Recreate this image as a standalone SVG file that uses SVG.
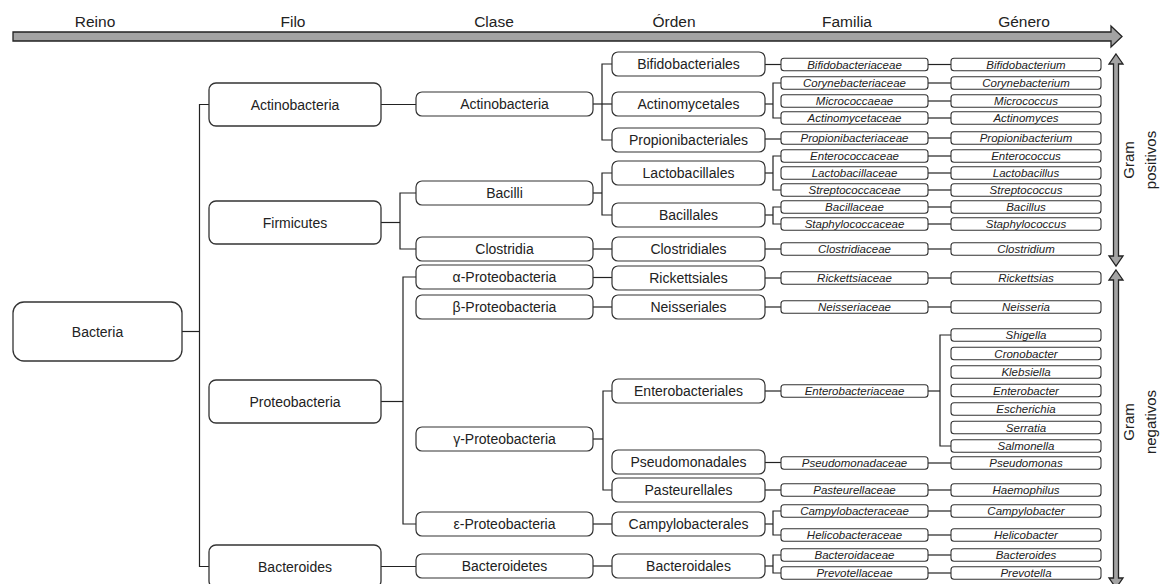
<svg xmlns="http://www.w3.org/2000/svg" width="1166" height="584" viewBox="0 0 1166 584">
  <style>
    .bg { fill: #ffffff; }
    .arr { fill: #a3a3a3; stroke: #222; stroke-width: 1.3; stroke-linejoin: miter; }
    .hd { font-family: "Liberation Sans", Arial, sans-serif; font-size: 15.5px; fill: #222; text-anchor: middle; }
    .gl { font-family: "Liberation Sans", Arial, sans-serif; font-size: 15px; fill: #222; text-anchor: middle; }
    .big { fill: #fff; stroke: #333; stroke-width: 1.3; }
    .box { fill: #fff; stroke: #333; stroke-width: 1.2; }
    .sm { fill: #fff; stroke: #333; stroke-width: 1.1; }
    .t { font-family: "Liberation Sans", Arial, sans-serif; font-size: 14px; fill: #222; text-anchor: middle; }
    .i { font-family: "Liberation Sans", Arial, sans-serif; font-size: 11.5px; font-style: italic; fill: #222; text-anchor: middle; }
    .c { fill: none; stroke: #222; stroke-width: 1.2; }
  </style>
  <rect class="bg" x="0" y="0" width="1166" height="584"/>

  <!-- rank axis -->
  <g id="header">
    <polygon class="arr" points="13,32 1111,32 1111,26 1122,36.5 1111,47 1111,41 13,41"/>
    <text class="hd" x="95" y="27">Reino</text>
    <text class="hd" x="293" y="27">Filo</text>
    <text class="hd" x="494" y="27">Clase</text>
    <text class="hd" x="674" y="27">Órden</text>
    <text class="hd" x="847" y="27">Familia</text>
    <text class="hd" x="1024" y="27">Género</text>
  </g>

  <!-- Gram staining brackets -->
  <g id="gram-positivos">
    <polygon class="arr" points="1116,54 1123,64 1118.5,64 1118.5,256 1123,256 1116,266 1109,256 1113.5,256 1113.5,64 1109,64"/>
    <text class="gl" transform="translate(1134,160) rotate(-90)">Gram</text>
    <text class="gl" transform="translate(1156,160) rotate(-90)">positivos</text>
  </g>
  <g id="gram-negativos">
    <polygon class="arr" points="1116,270 1123,280 1118.5,280 1118.5,578 1123,578 1116,588 1109,578 1113.5,578 1113.5,280 1109,280"/>
    <text class="gl" transform="translate(1134,422) rotate(-90)">Gram</text>
    <text class="gl" transform="translate(1156,422) rotate(-90)">negativos</text>
  </g>

  <!-- tree connectors -->
  <g id="connectors" class="c">
    <path d="M182,331.5 H199.5"/>
    <path d="M209,104.5 H199.5 V566.5 H209"/>
    <path d="M381,104.5 H416"/>
    <path d="M381,222.5 H400"/>
    <path d="M416,193 H400 V249 H416"/>
    <path d="M381,401.5 H403"/>
    <path d="M416,277 H403 V524 H416"/>
    <path d="M381,566.5 H416"/>

    <path d="M593,104 H612"/>
    <path d="M612,64 H602 V140 H612"/>
    <path d="M593,193 H602"/>
    <path d="M612,173 H602 V215 H612"/>
    <path d="M593,249 H612"/>
    <path d="M593,277.5 H612"/>
    <path d="M593,307 H612"/>
    <path d="M593,439 H603"/>
    <path d="M612,391 H603 V490 H612"/>
    <path d="M593,524 H612"/>
    <path d="M593,566 H612"/>

    <path d="M765,64.5 H781"/>
    <path d="M765,104 H773"/>
    <path d="M781,83 H773 V118 H781"/>
    <path d="M765,139 H781"/>
    <path d="M765,173 H773"/>
    <path d="M781,156 H773 V190 H781"/>
    <path d="M765,215 H773"/>
    <path d="M781,207 H773 V224 H781"/>
    <path d="M765,249 H781"/>
    <path d="M765,278 H781"/>
    <path d="M765,307 H781"/>
    <path d="M765,391 H781"/>
    <path d="M765,462.5 H781"/>
    <path d="M765,490 H781"/>
    <path d="M765,524 H773"/>
    <path d="M781,511 H773 V535 H781"/>
    <path d="M765,566 H773"/>
    <path d="M781,555 H773 V573 H781"/>

    <path d="M928,64.5 H951"/>
    <path d="M928,83 H951"/>
    <path d="M928,101 H951"/>
    <path d="M928,118 H951"/>
    <path d="M928,138 H951"/>
    <path d="M928,156 H951"/>
    <path d="M928,173 H951"/>
    <path d="M928,190 H951"/>
    <path d="M928,207 H951"/>
    <path d="M928,224 H951"/>
    <path d="M928,249 H951"/>
    <path d="M928,278 H951"/>
    <path d="M928,307 H951"/>
    <path d="M928,391 H940"/>
    <path d="M951,335 H940 V446 H951"/>
    <path d="M928,463 H951"/>
    <path d="M928,490 H951"/>
    <path d="M928,511 H951"/>
    <path d="M928,535 H951"/>
    <path d="M928,555 H951"/>
    <path d="M928,573 H951"/>
  </g>

  <!-- Reino -->
  <g id="reino-bacteria"><rect class="big" x="13" y="302" width="169" height="59" rx="11"/><text class="t" x="97.5" y="336.5">Bacteria</text></g>

  <!-- Filo -->
  <g id="filo-actinobacteria"><rect class="big" x="209" y="83" width="172" height="43" rx="7"/><text class="t" x="295" y="109.5">Actinobacteria</text></g>
  <g id="filo-firmicutes"><rect class="big" x="209" y="201" width="172" height="43" rx="7"/><text class="t" x="295" y="227.5">Firmicutes</text></g>
  <g id="filo-proteobacteria"><rect class="big" x="209" y="380" width="172" height="43" rx="7"/><text class="t" x="295" y="406.5">Proteobacteria</text></g>
  <g id="filo-bacteroides"><rect class="big" x="209" y="545" width="172" height="43" rx="7"/><text class="t" x="295" y="571.5">Bacteroides</text></g>

  <!-- Clase -->
  <g id="clase-actinobacteria"><rect class="box" x="416" y="92" width="177" height="24" rx="6"/><text class="t" x="504.5" y="109">Actinobacteria</text></g>
  <g id="clase-bacilli"><rect class="box" x="416" y="181" width="177" height="24" rx="6"/><text class="t" x="504.5" y="198">Bacilli</text></g>
  <g id="clase-clostridia"><rect class="box" x="416" y="237" width="177" height="24" rx="6"/><text class="t" x="504.5" y="254">Clostridia</text></g>
  <g id="clase-alpha"><rect class="box" x="416" y="265" width="177" height="24" rx="6"/><text class="t" x="504.5" y="282">α-Proteobacteria</text></g>
  <g id="clase-beta"><rect class="box" x="416" y="295" width="177" height="24" rx="6"/><text class="t" x="504.5" y="312">β-Proteobacteria</text></g>
  <g id="clase-gamma"><rect class="box" x="416" y="427" width="177" height="24" rx="6"/><text class="t" x="504.5" y="444">γ-Proteobacteria</text></g>
  <g id="clase-epsilon"><rect class="box" x="416" y="512" width="177" height="24" rx="6"/><text class="t" x="504.5" y="529">ε-Proteobacteria</text></g>
  <g id="clase-bacteroidetes"><rect class="box" x="416" y="554" width="177" height="24" rx="6"/><text class="t" x="504.5" y="571">Bacteroidetes</text></g>

  <!-- Orden -->
  <g id="orden-bifidobacteriales"><rect class="box" x="612" y="52" width="153" height="24" rx="6"/><text class="t" x="688.5" y="69">Bifidobacteriales</text></g>
  <g id="orden-actinomycetales"><rect class="box" x="612" y="92" width="153" height="24" rx="6"/><text class="t" x="688.5" y="109">Actinomycetales</text></g>
  <g id="orden-propionibacteriales"><rect class="box" x="612" y="128" width="153" height="24" rx="6"/><text class="t" x="688.5" y="145">Propionibacteriales</text></g>
  <g id="orden-lactobacillales"><rect class="box" x="612" y="161" width="153" height="24" rx="6"/><text class="t" x="688.5" y="178">Lactobacillales</text></g>
  <g id="orden-bacillales"><rect class="box" x="612" y="203" width="153" height="24" rx="6"/><text class="t" x="688.5" y="220">Bacillales</text></g>
  <g id="orden-clostridiales"><rect class="box" x="612" y="237" width="153" height="24" rx="6"/><text class="t" x="688.5" y="254">Clostridiales</text></g>
  <g id="orden-rickettsiales"><rect class="box" x="612" y="266" width="153" height="24" rx="6"/><text class="t" x="688.5" y="283">Rickettsiales</text></g>
  <g id="orden-neisseriales"><rect class="box" x="612" y="295" width="153" height="24" rx="6"/><text class="t" x="688.5" y="312">Neisseriales</text></g>
  <g id="orden-enterobacteriales"><rect class="box" x="612" y="379" width="153" height="24" rx="6"/><text class="t" x="688.5" y="396">Enterobacteriales</text></g>
  <g id="orden-pseudomonadales"><rect class="box" x="612" y="450" width="153" height="24" rx="6"/><text class="t" x="688.5" y="467">Pseudomonadales</text></g>
  <g id="orden-pasteurellales"><rect class="box" x="612" y="478" width="153" height="24" rx="6"/><text class="t" x="688.5" y="495">Pasteurellales</text></g>
  <g id="orden-campylobacterales"><rect class="box" x="612" y="512" width="153" height="24" rx="6"/><text class="t" x="688.5" y="529">Campylobacterales</text></g>
  <g id="orden-bacteroidales"><rect class="box" x="612" y="554" width="153" height="24" rx="6"/><text class="t" x="688.5" y="571">Bacteroidales</text></g>

  <!-- Familia -->
  <g id="fam-bifidobacteriaceae"><rect class="sm" x="781" y="58.25" width="147" height="12.5" rx="3"/><text class="i" x="854.5" y="68.75">Bifidobacteriaceae</text></g>
  <g id="fam-corynebacteriaceae"><rect class="sm" x="781" y="76.75" width="147" height="12.5" rx="3"/><text class="i" x="854.5" y="87.25">Corynebacteriaceae</text></g>
  <g id="fam-micrococcaeae"><rect class="sm" x="781" y="94.75" width="147" height="12.5" rx="3"/><text class="i" x="854.5" y="105.25">Micrococcaeae</text></g>
  <g id="fam-actinomycetaceae"><rect class="sm" x="781" y="111.75" width="147" height="12.5" rx="3"/><text class="i" x="854.5" y="122.25">Actinomycetaceae</text></g>
  <g id="fam-propionibacteriaceae"><rect class="sm" x="781" y="131.75" width="147" height="12.5" rx="3"/><text class="i" x="854.5" y="142.25">Propionibacteriaceae</text></g>
  <g id="fam-enterococcaceae"><rect class="sm" x="781" y="149.75" width="147" height="12.5" rx="3"/><text class="i" x="854.5" y="160.25">Enterococcaceae</text></g>
  <g id="fam-lactobacillaceae"><rect class="sm" x="781" y="166.75" width="147" height="12.5" rx="3"/><text class="i" x="854.5" y="177.25">Lactobacillaceae</text></g>
  <g id="fam-streptococcaceae"><rect class="sm" x="781" y="183.75" width="147" height="12.5" rx="3"/><text class="i" x="854.5" y="194.25">Streptococcaceae</text></g>
  <g id="fam-bacillaceae"><rect class="sm" x="781" y="200.75" width="147" height="12.5" rx="3"/><text class="i" x="854.5" y="211.25">Bacillaceae</text></g>
  <g id="fam-staphylococcaceae"><rect class="sm" x="781" y="217.75" width="147" height="12.5" rx="3"/><text class="i" x="854.5" y="228.25">Staphylococcaceae</text></g>
  <g id="fam-clostridiaceae"><rect class="sm" x="781" y="242.75" width="147" height="12.5" rx="3"/><text class="i" x="854.5" y="253.25">Clostridiaceae</text></g>
  <g id="fam-rickettsiaceae"><rect class="sm" x="781" y="271.75" width="147" height="12.5" rx="3"/><text class="i" x="854.5" y="282.25">Rickettsiaceae</text></g>
  <g id="fam-neisseriaceae"><rect class="sm" x="781" y="300.75" width="147" height="12.5" rx="3"/><text class="i" x="854.5" y="311.25">Neisseriaceae</text></g>
  <g id="fam-enterobacteriaceae"><rect class="sm" x="781" y="384.75" width="147" height="12.5" rx="3"/><text class="i" x="854.5" y="395.25">Enterobacteriaceae</text></g>
  <g id="fam-pseudomonadaceae"><rect class="sm" x="781" y="456.75" width="147" height="12.5" rx="3"/><text class="i" x="854.5" y="467.25">Pseudomonadaceae</text></g>
  <g id="fam-pasteurellaceae"><rect class="sm" x="781" y="483.75" width="147" height="12.5" rx="3"/><text class="i" x="854.5" y="494.25">Pasteurellaceae</text></g>
  <g id="fam-campylobacteraceae"><rect class="sm" x="781" y="504.75" width="147" height="12.5" rx="3"/><text class="i" x="854.5" y="515.25">Campylobacteraceae</text></g>
  <g id="fam-helicobacteraceae"><rect class="sm" x="781" y="528.75" width="147" height="12.5" rx="3"/><text class="i" x="854.5" y="539.25">Helicobacteraceae</text></g>
  <g id="fam-bacteroidaceae"><rect class="sm" x="781" y="548.75" width="147" height="12.5" rx="3"/><text class="i" x="854.5" y="559.25">Bacteroidaceae</text></g>
  <g id="fam-prevotellaceae"><rect class="sm" x="781" y="566.75" width="147" height="12.5" rx="3"/><text class="i" x="854.5" y="577.25">Prevotellaceae</text></g>

  <!-- Género -->
  <g id="gen-bifidobacterium"><rect class="sm" x="951" y="58.25" width="150" height="12.5" rx="3"/><text class="i" x="1026" y="68.75">Bifidobacterium</text></g>
  <g id="gen-corynebacterium"><rect class="sm" x="951" y="76.75" width="150" height="12.5" rx="3"/><text class="i" x="1026" y="87.25">Corynebacterium</text></g>
  <g id="gen-micrococcus"><rect class="sm" x="951" y="94.75" width="150" height="12.5" rx="3"/><text class="i" x="1026" y="105.25">Micrococcus</text></g>
  <g id="gen-actinomyces"><rect class="sm" x="951" y="111.75" width="150" height="12.5" rx="3"/><text class="i" x="1026" y="122.25">Actinomyces</text></g>
  <g id="gen-propionibacterium"><rect class="sm" x="951" y="131.75" width="150" height="12.5" rx="3"/><text class="i" x="1026" y="142.25">Propionibacterium</text></g>
  <g id="gen-enterococcus"><rect class="sm" x="951" y="149.75" width="150" height="12.5" rx="3"/><text class="i" x="1026" y="160.25">Enterococcus</text></g>
  <g id="gen-lactobacillus"><rect class="sm" x="951" y="166.75" width="150" height="12.5" rx="3"/><text class="i" x="1026" y="177.25">Lactobacillus</text></g>
  <g id="gen-streptococcus"><rect class="sm" x="951" y="183.75" width="150" height="12.5" rx="3"/><text class="i" x="1026" y="194.25">Streptococcus</text></g>
  <g id="gen-bacillus"><rect class="sm" x="951" y="200.75" width="150" height="12.5" rx="3"/><text class="i" x="1026" y="211.25">Bacillus</text></g>
  <g id="gen-staphylococcus"><rect class="sm" x="951" y="217.75" width="150" height="12.5" rx="3"/><text class="i" x="1026" y="228.25">Staphylococcus</text></g>
  <g id="gen-clostridium"><rect class="sm" x="951" y="242.75" width="150" height="12.5" rx="3"/><text class="i" x="1026" y="253.25">Clostridium</text></g>
  <g id="gen-rickettsias"><rect class="sm" x="951" y="271.75" width="150" height="12.5" rx="3"/><text class="i" x="1026" y="282.25">Rickettsias</text></g>
  <g id="gen-neisseria"><rect class="sm" x="951" y="300.75" width="150" height="12.5" rx="3"/><text class="i" x="1026" y="311.25">Neisseria</text></g>
  <g id="gen-shigella"><rect class="sm" x="951" y="328.75" width="150" height="12.5" rx="3"/><text class="i" x="1026" y="339.25">Shigella</text></g>
  <g id="gen-cronobacter"><rect class="sm" x="951" y="347.25" width="150" height="12.5" rx="3"/><text class="i" x="1026" y="357.75">Cronobacter</text></g>
  <g id="gen-klebsiella"><rect class="sm" x="951" y="365.75" width="150" height="12.5" rx="3"/><text class="i" x="1026" y="376.25">Klebsiella</text></g>
  <g id="gen-enterobacter"><rect class="sm" x="951" y="384.25" width="150" height="12.5" rx="3"/><text class="i" x="1026" y="394.75">Enterobacter</text></g>
  <g id="gen-escherichia"><rect class="sm" x="951" y="402.75" width="150" height="12.5" rx="3"/><text class="i" x="1026" y="413.25">Escherichia</text></g>
  <g id="gen-serratia"><rect class="sm" x="951" y="421.25" width="150" height="12.5" rx="3"/><text class="i" x="1026" y="431.75">Serratia</text></g>
  <g id="gen-salmonella"><rect class="sm" x="951" y="439.75" width="150" height="12.5" rx="3"/><text class="i" x="1026" y="450.25">Salmonella</text></g>
  <g id="gen-pseudomonas"><rect class="sm" x="951" y="456.75" width="150" height="12.5" rx="3"/><text class="i" x="1026" y="467.25">Pseudomonas</text></g>
  <g id="gen-haemophilus"><rect class="sm" x="951" y="483.75" width="150" height="12.5" rx="3"/><text class="i" x="1026" y="494.25">Haemophilus</text></g>
  <g id="gen-campylobacter"><rect class="sm" x="951" y="504.75" width="150" height="12.5" rx="3"/><text class="i" x="1026" y="515.25">Campylobacter</text></g>
  <g id="gen-helicobacter"><rect class="sm" x="951" y="528.75" width="150" height="12.5" rx="3"/><text class="i" x="1026" y="539.25">Helicobacter</text></g>
  <g id="gen-bacteroides"><rect class="sm" x="951" y="548.75" width="150" height="12.5" rx="3"/><text class="i" x="1026" y="559.25">Bacteroides</text></g>
  <g id="gen-prevotella"><rect class="sm" x="951" y="566.75" width="150" height="12.5" rx="3"/><text class="i" x="1026" y="577.25">Prevotella</text></g>
</svg>
